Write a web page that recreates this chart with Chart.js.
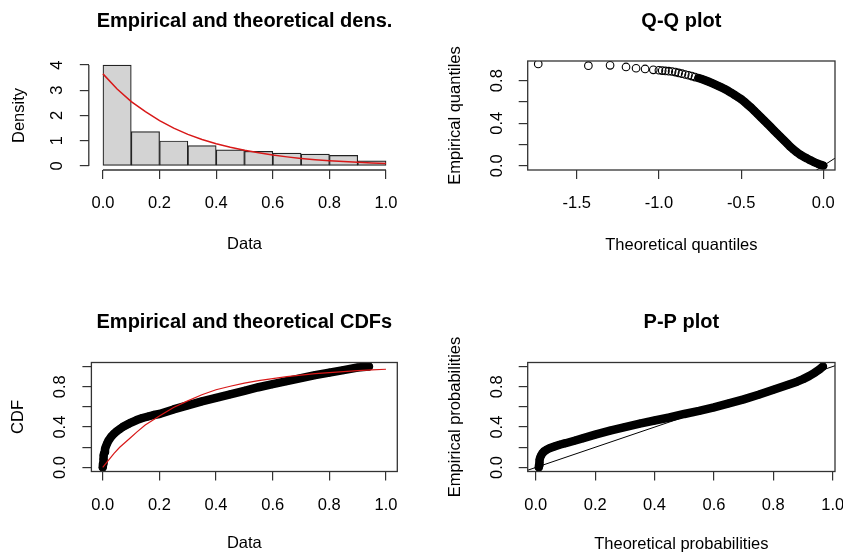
<!DOCTYPE html>
<html>
<head>
<meta charset="utf-8">
<script src="https://cdn.jsdelivr.net/npm/chart.js@4.4.1/dist/chart.umd.min.js"></script>
<style>
    html, body { margin: 0; padding: 0; background: #fff; }
    #wrap { position: relative; width: 843px; height: 556px; overflow: hidden; }
    canvas { position: absolute; }
</style>
</head>
<body>
<div id="wrap">
    <canvas id="dens-chart" width="421" height="278" style="left:0;top:0"></canvas>
    <canvas id="qq-chart" width="422" height="278" style="left:421px;top:0"></canvas>
    <canvas id="cdf-chart" width="421" height="278" style="left:0;top:278px"></canvas>
    <canvas id="pp-chart" width="422" height="278" style="left:421px;top:278px"></canvas>
</div>
<script>
// histogram + fitted density
const histMids = [0.05, 0.15, 0.25, 0.35, 0.45, 0.55, 0.65, 0.75, 0.85, 0.95];
const histDensity = [4.0, 1.36, 0.99, 0.81, 0.64, 0.58, 0.51, 0.47, 0.42, 0.20];
const densX = [0.00, 0.05, 0.10, 0.15, 0.20, 0.25, 0.30, 0.35, 0.40, 0.45, 0.50,
               0.55, 0.60, 0.65, 0.70, 0.75, 0.80, 0.85, 0.90, 0.95, 1.00];
const densY = [3.65, 3.05, 2.55, 2.15, 1.80, 1.50, 1.25, 1.05, 0.88, 0.74, 0.62,
               0.52, 0.43, 0.36, 0.30, 0.25, 0.21, 0.18, 0.15, 0.12, 0.10];

// Q-Q plot
const qqSparseX = [-1.734, -1.429, -1.297, -1.200, -1.139, -1.084, -1.034,
                   -1.00, -0.98, -0.96, -0.94, -0.92, -0.90, -0.88, -0.86,
                   -0.84, -0.82, -0.80, -0.78];
const qqSparseY = [0.957, 0.941, 0.944, 0.929, 0.917, 0.910, 0.902,
                   0.898, 0.895, 0.892, 0.889, 0.886, 0.881, 0.873, 0.866,
                   0.858, 0.851, 0.843, 0.834];
const qqBandX = [-0.76, -0.74, -0.72, -0.70, -0.68, -0.66, -0.64, -0.62, -0.60,
                 -0.58, -0.56, -0.54, -0.52, -0.50, -0.48, -0.46, -0.44, -0.42,
                 -0.40, -0.38, -0.36, -0.34, -0.32, -0.30, -0.28, -0.26, -0.24,
                 -0.22, -0.20, -0.18, -0.16, -0.14, -0.12, -0.10, -0.08, -0.06,
                 -0.04, -0.03, -0.02, -0.01, 0.00];
const qqBandY = [0.825, 0.815, 0.804, 0.792, 0.779, 0.765, 0.751, 0.737, 0.722,
                 0.705, 0.686, 0.666, 0.646, 0.626, 0.601, 0.574, 0.547, 0.517,
                 0.487, 0.456, 0.425, 0.394, 0.363, 0.332, 0.301, 0.270, 0.239,
                 0.208, 0.177, 0.150, 0.125, 0.103, 0.085, 0.069, 0.052, 0.037,
                 0.023, 0.016, 0.010, 0.005, 0.001];

// empirical and fitted CDF
const ecdfX = [0.000, 0.001, 0.002, 0.004, 0.006, 0.008, 0.010, 0.015, 0.020, 0.030,
               0.040, 0.050, 0.060, 0.070, 0.080, 0.090, 0.100, 0.120, 0.140, 0.160,
               0.180, 0.200, 0.250, 0.300, 0.350, 0.400, 0.450, 0.500, 0.550, 0.600,
               0.650, 0.700, 0.750, 0.800, 0.850, 0.900, 0.940];
const ecdfY = [0.000, 0.040, 0.080, 0.120, 0.150, 0.180, 0.200, 0.235, 0.265, 0.305,
               0.335, 0.360, 0.380, 0.400, 0.415, 0.430, 0.445, 0.470, 0.490, 0.505,
               0.520, 0.530, 0.575, 0.615, 0.655, 0.690, 0.725, 0.760, 0.795, 0.825,
               0.855, 0.885, 0.915, 0.940, 0.965, 0.990, 1.000];
const cdfFitX = [0.00, 0.01, 0.02, 0.04, 0.06, 0.08, 0.10, 0.12, 0.15, 0.20, 0.25, 0.30, 0.35,
                 0.40, 0.45, 0.50, 0.55, 0.60, 0.65, 0.70, 0.75, 0.80, 0.85, 0.90, 0.95, 1.00];
const cdfFitY = [0.000, 0.035, 0.070, 0.140, 0.200, 0.250, 0.300, 0.350, 0.420, 0.510, 0.595, 0.660, 0.720,
                 0.770, 0.805, 0.835, 0.860, 0.880, 0.900, 0.915, 0.930, 0.940, 0.950, 0.960, 0.967, 0.973];

// P-P plot
const ppX = [0.010, 0.011, 0.012, 0.013, 0.015, 0.018, 0.022, 0.028, 0.036, 0.046,
             0.060, 0.080, 0.100, 0.130, 0.160, 0.200, 0.250, 0.300, 0.350, 0.400,
             0.450, 0.500, 0.550, 0.600, 0.650, 0.700, 0.750, 0.800, 0.850, 0.880,
             0.900, 0.920, 0.940, 0.955, 0.967];
const ppY = [0.000, 0.025, 0.050, 0.075, 0.100, 0.120, 0.140, 0.160, 0.175, 0.190,
             0.205, 0.225, 0.240, 0.265, 0.290, 0.325, 0.365, 0.400, 0.435, 0.465,
             0.495, 0.530, 0.560, 0.595, 0.635, 0.675, 0.720, 0.770, 0.820, 0.850,
             0.875, 0.905, 0.940, 0.970, 1.000];

// the y = x reference line
const refLine = [-2, 2];

// ticks
const unitTicks = [0, 0.2, 0.4, 0.6, 0.8, 1.0];
const unitTickLabels = ['0.0', '0.2', '0.4', '0.6', '0.8', '1.0'];
const probTickLabels = ['0.0', '', '0.4', '', '0.8', ''];
const densYTicks = [0, 1, 2, 3, 4];
const densYTickLabels = ['0', '1', '2', '3', '4'];
const qqXTicks = [-1.5, -1.0, -0.5, 0.0];
const qqXTickLabels = ['-1.5', '-1.0', '-0.5', '0.0'];
const qqYTicks = [0, 0.2, 0.4, 0.6, 0.8];
const qqYTickLabels = ['0.0', '', '0.4', '', '0.8'];

const FAMILY = "'Liberation Sans', Arial, sans-serif";
const FONT = { family: FAMILY, size: 16.5 };
const INK = '#333';
const RED = '#d81818';

const pts = (xs, ys) => xs.map((x, i) => ({ x: x, y: ys[i] }));

// R-like frame: full box, or only the two axis lines between first and last tick
const frame = {
    id: 'frame',
    afterDatasetsDraw(chart, args, opts) {
        const { ctx, chartArea: a, scales } = chart;
        ctx.save();
        ctx.strokeStyle = INK;
        ctx.lineWidth = 1.3;
        if (opts.axesOnly) {
            const xt = scales.x.ticks, yt = scales.y.ticks;
            ctx.beginPath();
            ctx.moveTo(scales.x.getPixelForValue(xt[0].value), a.bottom);
            ctx.lineTo(scales.x.getPixelForValue(xt[xt.length - 1].value), a.bottom);
            ctx.moveTo(a.left, scales.y.getPixelForValue(yt[0].value));
            ctx.lineTo(a.left, scales.y.getPixelForValue(yt[yt.length - 1].value));
            ctx.stroke();
        } else {
            ctx.strokeRect(a.left, a.top, a.right - a.left, a.bottom - a.top);
        }
        ctx.restore();
    }
};

function xAxis(cfg) {
    return {
        type: 'linear',
        min: cfg.min,
        max: cfg.max,
        offset: false,
        afterBuildTicks: s => { s.ticks = cfg.ticks.map(v => ({ value: v })); },
        afterFit: s => { s.height = cfg.height; s.paddingLeft = 0; s.paddingRight = 0; },
        ticks: {
            autoSkip: false, maxRotation: 0, minRotation: 0, padding: 15,
            color: '#000', font: FONT,
            callback: (v, i) => cfg.labels[i]
        },
        grid: { offset: false, drawOnChartArea: false, drawTicks: true, tickLength: 9, color: INK, lineWidth: 1.2 },
        border: { display: false },
        title: { display: true, text: cfg.title, color: '#000', font: FONT, padding: { top: 0, bottom: cfg.titlePad } }
    };
}

function yAxis(cfg) {
    return {
        type: 'linear',
        min: cfg.min,
        max: cfg.max,
        afterBuildTicks: s => { s.ticks = cfg.ticks.map(v => ({ value: v })); },
        afterFit: s => { s.width = cfg.width; s.paddingTop = 0; s.paddingBottom = 0; },
        ticks: {
            autoSkip: false, minRotation: 90, maxRotation: 90, crossAlign: 'center',
            padding: cfg.labelPad, color: '#000', font: FONT,
            callback: (v, i) => cfg.labels[i]
        },
        grid: { drawOnChartArea: false, drawTicks: true, tickLength: 9, color: INK, lineWidth: 1.2 },
        border: { display: false },
        title: { display: true, text: cfg.title, color: '#000', font: FONT, padding: { top: cfg.titlePad, bottom: 0 } }
    };
}

function baseOptions(title, titleTop, titleBottom, padRight, xCfg, yCfg, axesOnly) {
    return {
        responsive: false,
        animation: false,
        devicePixelRatio: 1,
        layout: { padding: { left: 0, top: 0, right: padRight, bottom: 0 } },
        scales: { x: xAxis(xCfg), y: yAxis(yCfg) },
        plugins: {
            legend: { display: false },
            tooltip: { enabled: false },
            title: {
                display: true, text: title, fullSize: false, color: '#000',
                font: { family: FAMILY, size: 20, weight: 'bold', lineHeight: 1.2 },
                padding: { top: titleTop, bottom: titleBottom }
            },
            frame: { axesOnly: axesOnly }
        }
    };
}

const bandStyle = {
    showLine: true,
    borderColor: '#000',
    borderWidth: 8.5,
    borderJoinStyle: 'round',
    borderCapStyle: 'round',
    pointRadius: 3.5,
    pointBorderWidth: 1,
    pointBorderColor: '#000',
    pointBackgroundColor: 'rgba(0,0,0,0)',
    clip: 0
};

const ringStyle = {
    showLine: false,
    pointRadius: 3.8,
    pointBorderWidth: 1.1,
    pointBorderColor: '#000',
    pointBackgroundColor: 'rgba(0,0,0,0)',
    clip: 0
};

// top left: histogram with fitted density
new Chart(document.getElementById('dens-chart'), {
    type: 'bar',
    data: {
        datasets: [{
            type: 'line',
            data: pts(densX, densY),
            borderColor: RED,
            borderWidth: 1.5,
            pointRadius: 0,
            tension: 0,
            order: 0
        }, {
            type: 'bar',
            data: pts(histMids, histDensity),
            backgroundColor: '#d3d3d3',
            borderColor: '#222',
            borderWidth: 1.2,
            borderSkipped: false,
            barPercentage: 1,
            categoryPercentage: 1,
            order: 1
        }]
    },
    options: baseOptions('Empirical and theoretical dens.', 9, 28, 421 - 400.2,
        { min: -0.05, max: 1.05, ticks: unitTicks, labels: unitTickLabels, height: 278 - 170, title: 'Data', titlePad: 24 },
        { min: -0.16, max: 4.16, ticks: densYTicks, labels: densYTickLabels, width: 88.8, labelPad: 17.5, title: 'Density', titlePad: 10 },
        true),
    plugins: [frame]
});

// top right: Q-Q plot
new Chart(document.getElementById('qq-chart'), {
    type: 'scatter',
    data: {
        datasets: [{
            data: pts(refLine, refLine),
            showLine: true, borderColor: '#000', borderWidth: 1, pointRadius: 0, order: 0
        }, Object.assign({ data: pts(qqSparseX, qqSparseY), order: 2 }, ringStyle),
        Object.assign({ data: pts(qqBandX, qqBandY), order: 1 }, bandStyle)]
    },
    options: baseOptions('Q-Q plot', 9, 28, 422 - 414,
        { min: -1.798, max: 0.071, ticks: qqXTicks, labels: qqXTickLabels, height: 278 - 170, title: 'Theoretical quantiles', titlePad: 23 },
        { min: -0.0405, max: 0.985, ticks: qqYTicks, labels: qqYTickLabels, width: 106.7, labelPad: 10, title: 'Empirical quantiles', titlePad: 25 },
        false),
    plugins: [frame]
});

// bottom left: CDFs
new Chart(document.getElementById('cdf-chart'), {
    type: 'scatter',
    data: {
        datasets: [{
            data: pts(cdfFitX, cdfFitY),
            showLine: true, borderColor: RED, borderWidth: 1.2, pointRadius: 0, order: 0
        }, Object.assign({ data: pts(ecdfX, ecdfY), order: 1 }, bandStyle)]
    },
    options: baseOptions('Empirical and theoretical CDFs', 32, 28.5, 421 - 397.3,
        { min: -0.04, max: 1.04, ticks: unitTicks, labels: unitTickLabels, height: 278 - 193.5, title: 'Data', titlePad: 3 },
        { min: -0.04, max: 1.04, ticks: unitTicks, labels: probTickLabels, width: 91.4, labelPad: 10, title: 'CDF', titlePad: 9 },
        false),
    plugins: [frame]
});

// bottom right: P-P plot
new Chart(document.getElementById('pp-chart'), {
    type: 'scatter',
    data: {
        datasets: [{
            data: pts(refLine, refLine),
            showLine: true, borderColor: '#000', borderWidth: 1, pointRadius: 0, order: 0
        }, Object.assign({ data: pts(ppX, ppY), order: 1 }, bandStyle)]
    },
    options: baseOptions('P-P plot', 32, 28.5, 422 - 414,
        { min: -0.0273, max: 1.0077, ticks: unitTicks, labels: unitTickLabels, height: 278 - 193.5, title: 'Theoretical probabilities', titlePad: 2 },
        { min: -0.04, max: 1.04, ticks: unitTicks, labels: probTickLabels, width: 106.7, labelPad: 10, title: 'Empirical probabilities', titlePad: 25 },
        false),
    plugins: [frame]
});
</script>
</body>
</html>
